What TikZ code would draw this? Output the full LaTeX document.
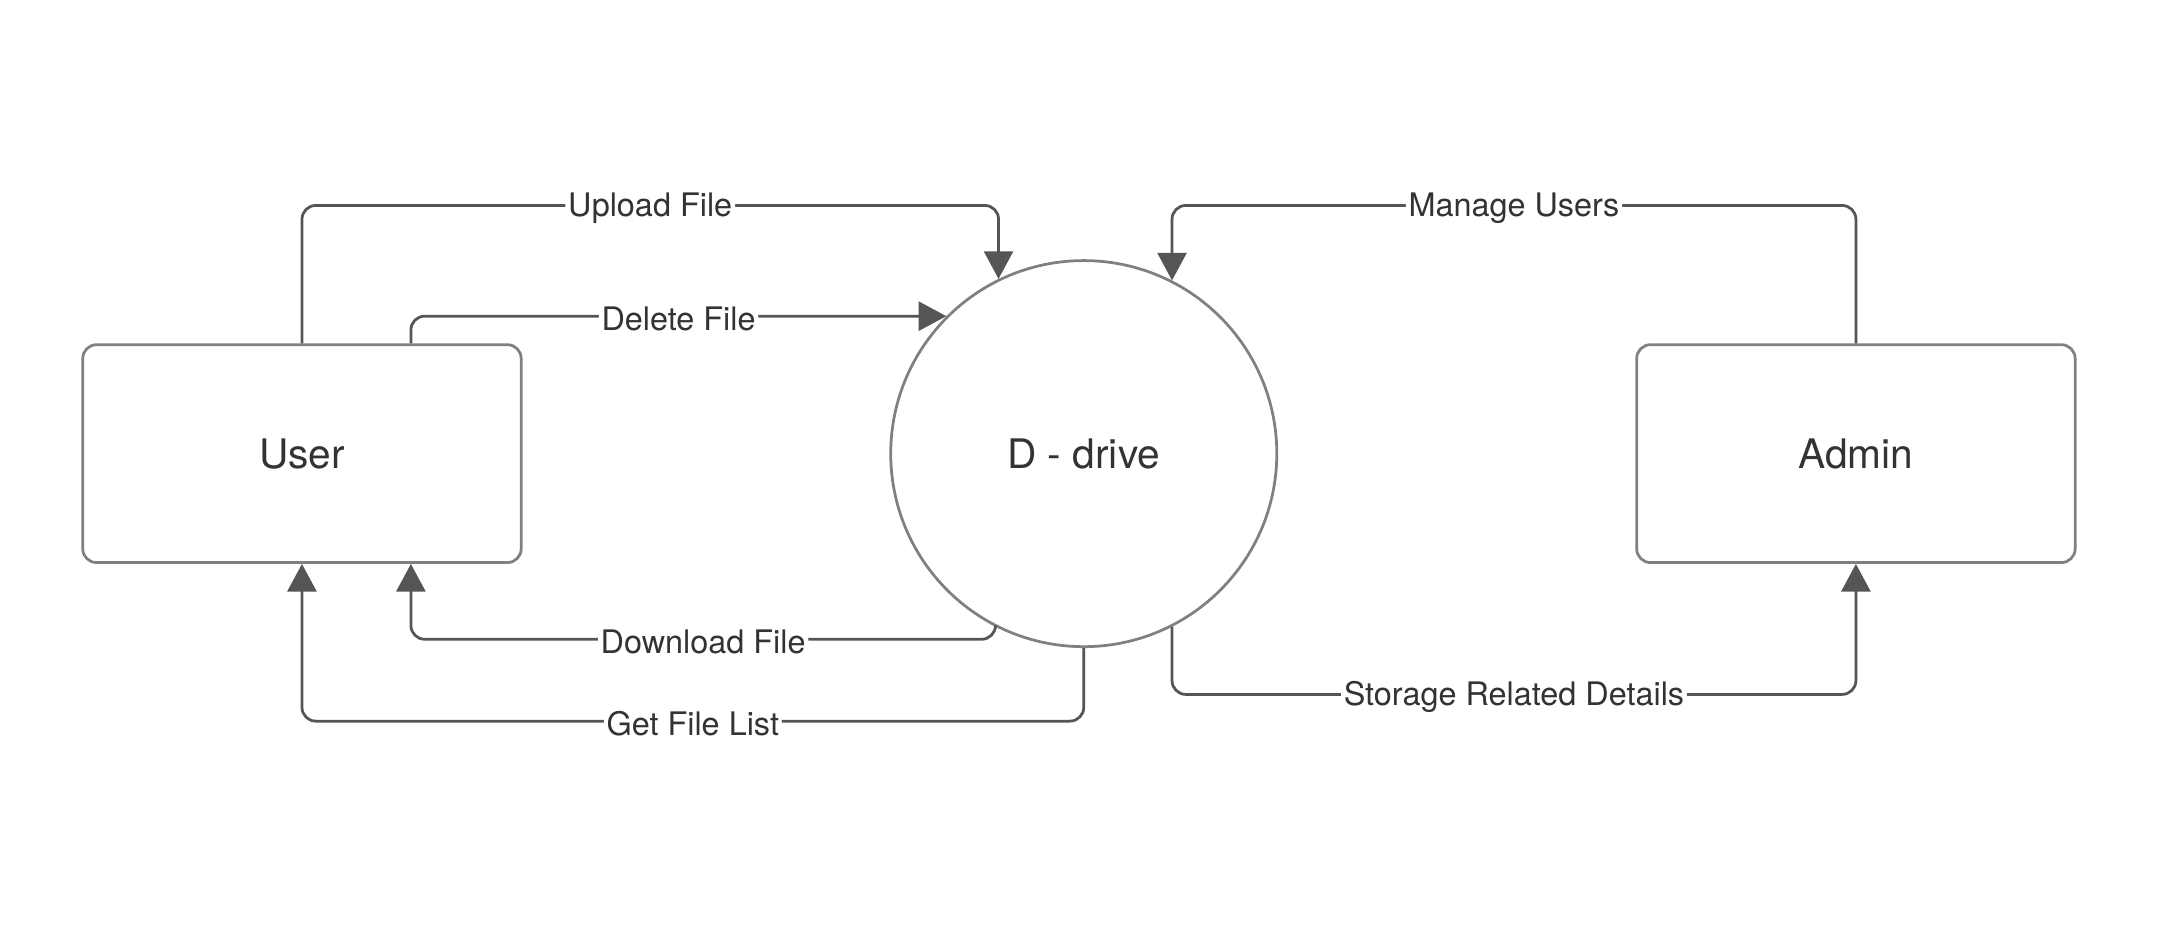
\documentclass[tikz,border=0pt]{standalone}
\usepackage{fontspec}
\setmainfont{TeX Gyre Heros}
\usetikzlibrary{positioning,arrows.meta}
\definecolor{linecolor}{HTML}{555555}
\definecolor{bordercolor}{HTML}{808080}
\definecolor{textcolor}{HTML}{333333}
\newcommand{\nodeFont}{\fontsize{29.5}{35}\selectfont}
\newcommand{\flowFont}{\fontsize{23.5}{28}\selectfont}

\begin{document}
\begin{tikzpicture}[x=1pt, y=1pt,
			entity/.style={rectangle, rounded corners=10pt, draw=bordercolor, line width=2pt, minimum width=318pt, minimum height=158pt, text=textcolor, font=\nodeFont},
			process/.style={circle, draw=bordercolor, line width=2pt, minimum size=280pt, text=textcolor, font=\nodeFont},
			flow/.style={draw=linecolor, line width=2pt, rounded corners=10pt, -{Triangle[length=20pt, width=21pt]}},
			flowlabel/.style={fill=white, text=textcolor, font=\flowFont, inner sep=2pt, yshift=-2pt},
		]

		\useasboundingbox (-219,-348.4) rectangle (1349,329);

		\node[entity]  (user)                            {User};
		\node[process] (drive) [right=266pt of user]     {D - drive};
		\node[entity]  (admin) [right=259pt of drive]    {Admin};


		\draw[flow] (user.north) -- ++(0,100) -| node[flowlabel, pos=0.25] {Upload File} (drive.116.74);
		\draw[flow] ([xshift=79pt]user.north) |- node[flowlabel, pos=0.75] {Delete File} (drive.135);
		\draw[flow] (drive.243.26) -- ++(0,-9) -| node[flowlabel, pos=0.25] {Download File} ([xshift=79pt]user.south);
		\draw[flow] (drive.south) -- ++(0,-53) -| node[flowlabel, pos=0.25] {Get File List} (user.south);
		\draw[flow] (admin.north) -- ++(0,100) -| node[flowlabel, pos=0.25] {Manage Users} (drive.63.26);
		\draw[flow] (drive.-63.26) -- ++(0,-49) -| node[flowlabel, pos=0.25] {Storage Related Details} (admin.south);


		\end{tikzpicture}
\end{document}
